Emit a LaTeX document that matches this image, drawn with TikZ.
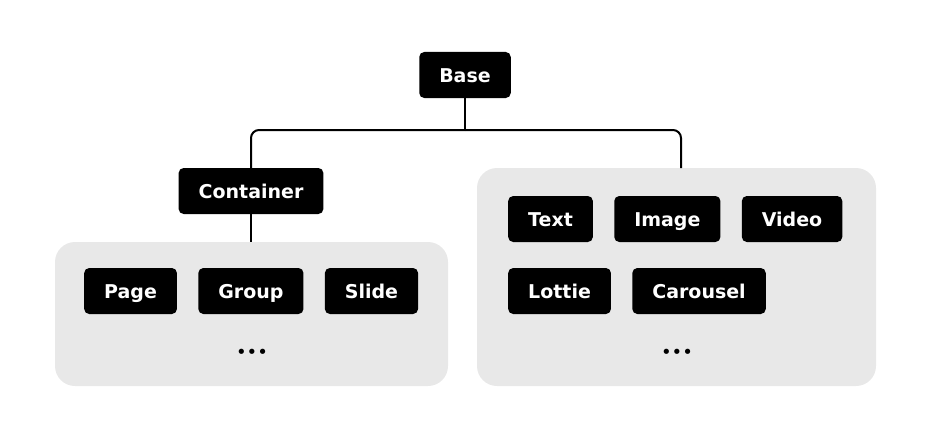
\documentclass[tikz,border=0pt]{standalone}
\usepackage{fontspec}
\setmainfont{DejaVu Sans}
\usetikzlibrary{positioning}

\definecolor{panelgray}{HTML}{E8E8E8}

\tikzset{
    item/.style={fill=black, text=white, rounded corners=5pt, minimum height=46pt,
        inner xsep=20pt, text height=17pt, text depth=3pt,
        font=\fontsize{19}{19}\selectfont\bfseries},
    panel/.style={fill=panelgray, rounded corners=20pt},
    more/.style={font=\fontsize{18}{18}\selectfont, inner sep=0pt},
    link/.style={line width=2pt, rounded corners=8pt}
}

\begin{document}
\begin{tikzpicture}[x=1pt,y=-1pt]
    \useasboundingbox (0,0) rectangle (931,436);

    % grey groups
    \fill[panel] (55,242) rectangle (448,386);
    \fill[panel] (477,168) rectangle (876,386);

    \node[item] (base) at (465,75) {Base};
    \node[item] (container) at (251,191) {Container};

    % containers
    \node[item, anchor=west] (page) at (84,291) {Page};
    \node[item] (group) [right=21pt of page] {Group};
    \node[item] (slide) [right=21pt of group] {Slide};
    \node[more] (moreleft) at (252,354) {•••};

    % leaves
    \node[item, anchor=west] (text) at (508,219) {Text};
    \node[item] (image) [right=21pt of text] {Image};
    \node[item] (video) [right=21pt of image] {Video};
    \node[item, anchor=west] (lottie) at (508,291) {Lottie};
    \node[item] (carousel) [right=21pt of lottie] {Carousel};
    \node[more] (moreright) at (677,354) {•••};

    \coordinate (fork) at (465,130);
    \coordinate (lefttop) at (251,242);
    \coordinate (righttop) at (681,168);

	\draw[link] (base.south) -- (fork);
	\draw[link] (fork) -| (container.north);
	\draw[link] (fork) -| (righttop);
	\draw[link] (container.south) -- (lefttop);
\end{tikzpicture}
\end{document}
